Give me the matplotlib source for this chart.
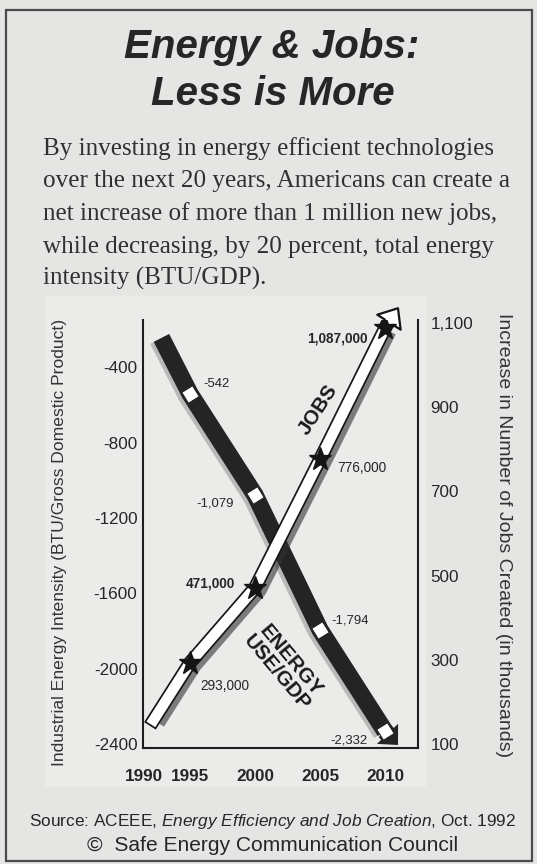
import matplotlib
matplotlib.use('Agg')
import matplotlib.pyplot as plt
import matplotlib.patheffects as pe
from matplotlib.patches import FancyArrowPatch, Rectangle
from matplotlib import font_manager

W, H = 537, 864

# ---- data ----
years = [1995, 2000, 2005, 2010]
energy = [-542, -1079, -1794, -2332]          # BTU/GDP
energy_labels = ['-542', '-1,079', '-1,794', '-2,332']
jobs = [293, 471, 776, 1087]                  # thousands of jobs
jobs_labels = ['293,000', '471,000', '776,000', '1,087,000']
energy_start = (1992.8, -245)
energy_tip = (2011.0, -2405)
jobs_start = (1992.2, 157)
jobs_tip = (2011.0, 1135)
left_ticks = [-400, -800, -1200, -1600, -2000, -2400]
right_ticks = [1100, 900, 700, 500, 300, 100]
right_tick_labels = ['1,100', '900', '700', '500', '300', '100']
x_tick_labels = ['1990', '1995', '2000', '2005', '2010']

title_lines = ['Energy & Jobs:', 'Less is More']
body_lines = ['By investing in energy efficient technologies',
              'over the next 20 years, Americans can create a',
              'net increase of more than 1 million new jobs,',
              'while decreasing, by 20 percent, total energy',
              'intensity (BTU/GDP).']

names = {f.name for f in font_manager.fontManager.ttflist}
narrow = 'Liberation Sans Narrow' if 'Liberation Sans Narrow' in names else 'Liberation Sans'
k = 1.0 if narrow == 'Liberation Sans Narrow' else 0.82   # shrink sizes for the wider face
plt.rcParams['mathtext.fontset'] = 'custom'
plt.rcParams['mathtext.rm'] = narrow
plt.rcParams['mathtext.it'] = narrow + ':italic'

ink = '#262626'


def fx(x):
    return x / W


def fy(y):
    return 1 - y / H


fig = plt.figure(figsize=(W / 100, H / 100), dpi=100)
fig.patch.set_facecolor('#e5e5e3')
renderer = fig.canvas.get_renderer()


def fit(t, px, vertical=False):
    bb = t.get_window_extent(renderer)
    cur = bb.height if vertical else bb.width
    t.set_fontsize(t.get_fontsize() * px / cur)


# lighter panel behind the chart and the outer frame
fig.add_artist(Rectangle((fx(45), fy(786)), (425 - 45) / W, (786 - 296) / H,
                         transform=fig.transFigure, color='#ebebe9', zorder=0))
fig.add_artist(Rectangle((fx(6), fy(861)), (532 - 6) / W, (861 - 10) / H,
                         transform=fig.transFigure, fill=False, ec='#4a4a4a', lw=1.6, zorder=1))

# title
t1 = fig.text(fx(272), fy(58), title_lines[0], ha='center', va='baseline', color=ink,
              family='Liberation Sans', weight='bold', style='italic', fontsize=29)
fit(t1, 295)
fig.text(fx(273), fy(105), title_lines[1], ha='center', va='baseline', color=ink,
         family='Liberation Sans', weight='bold', style='italic', fontsize=t1.get_fontsize())

# body text
ref = fig.text(0, 0, body_lines[1], family='Liberation Serif', fontsize=18)
fit(ref, 467)
body_size = ref.get_fontsize()
ref.remove()
for i, line in enumerate(body_lines):
    fig.text(fx(43), fy(155 + 32.5 * i), line, ha='left', va='baseline', color='#303030',
             family='Liberation Serif', fontsize=body_size)

# axes
ax = fig.add_axes([fx(143), fy(748), (418 - 143) / W, (748 - 320) / H])
ax.patch.set_visible(False)
ax.set_xlim(1991.38, 2012.54)
ax.set_ylim(-2421, -150)
ax2 = ax.twinx()
ax2.set_ylim(90.5, 1107)

for s in ['top', 'right']:
    ax.spines[s].set_visible(False)
for s in ['top', 'left', 'bottom']:
    ax2.spines[s].set_visible(False)
for sp in [ax.spines['left'], ax.spines['bottom'], ax2.spines['right']]:
    sp.set_linewidth(1.5)
    sp.set_color('#1e1e1e')

ax.set_xticks([1991.45] + years)
ax.set_xticklabels(x_tick_labels, family=narrow, weight='bold', fontsize=15 * k, color=ink)
ax.set_yticks(left_ticks)
ax.set_yticklabels([str(v) for v in left_ticks], family=narrow, fontsize=15 * k, color=ink)
ax2.set_yticks(right_ticks)
ax2.set_yticklabels(right_tick_labels, family=narrow, fontsize=15 * k, color=ink)
ax.tick_params(axis='x', length=0, pad=15)
ax.tick_params(axis='y', length=0, pad=4)
ax2.tick_params(axis='y', length=0, pad=9)

# energy use / GDP arrow (dark band)
ax.plot([energy_start[0]] + years, [energy_start[1]] + energy, color='#242424', lw=12.5,
        solid_capstyle='butt', solid_joinstyle='round', zorder=3,
        path_effects=[pe.SimpleLineShadow(offset=(-2.5, -1.5), shadow_color='#888', alpha=0.5),
                      pe.Normal()])
ax.add_patch(FancyArrowPatch((years[-1], energy[-1]), energy_tip,
                             arrowstyle='simple,head_width=21,head_length=11,tail_width=12.5',
                             mutation_scale=1, shrinkA=0, shrinkB=0, fc='#242424', ec='none',
                             zorder=3, clip_on=False))
ax.plot(years, energy, ls='none', marker=(4, 0, -13), ms=13, mfc='white', mec='#222',
        mew=0.8, zorder=4)
energy_offsets = [(19, 7), (-29, -6), (22, 7), (-26, -7)]
for yr, v, lab, off in zip(years, energy, energy_labels, energy_offsets):
    ax.annotate(lab, (yr, v), xytext=off, textcoords='offset points', ha='center',
                va='center', family=narrow, fontsize=11.5 * k, color=ink)
ax.text(2002.2, -1990, 'ENERGY\nUSE/GDP', rotation=-50, rotation_mode='anchor',
        ha='center', va='center', multialignment='center', linespacing=1.0,
        family=narrow, weight='bold', fontsize=18 * k, color='#1a1a1a')

# jobs arrow (white band with black outline)
ax2.plot([jobs_start[0]] + years, [jobs_start[1]] + jobs, color='white', lw=7.5,
         solid_capstyle='butt', solid_joinstyle='round', zorder=3,
         path_effects=[pe.SimpleLineShadow(offset=(3, -2), shadow_color='#333', alpha=0.6,
                                           linewidth=10.5),
                       pe.Stroke(linewidth=10, foreground='#161616', capstyle='projecting'),
                       pe.Stroke(linewidth=7.5, foreground='white', capstyle='projecting')])
ax2.add_patch(FancyArrowPatch((years[-1], jobs[-1]), jobs_tip,
                              arrowstyle='simple,head_width=20,head_length=12,tail_width=7',
                              mutation_scale=1, shrinkA=0, shrinkB=0, fc='white', ec='#161616',
                              lw=1.6, zorder=3.5, clip_on=False))
ax2.plot(years, jobs, ls='none', marker='*', ms=17, color='#151515', zorder=4)
jobs_offsets = [(25, -17), (-32, 3), (30, -6), (-34, -7)]
jobs_weight = ['normal', 'bold', 'normal', 'bold']
for yr, v, lab, off, wt in zip(years, jobs, jobs_labels, jobs_offsets, jobs_weight):
    ax2.annotate(lab, (yr, v), xytext=off, textcoords='offset points', ha='center',
                 va='center', family=narrow, fontsize=12 * k, weight=wt, color=ink)
ax2.text(2004.9, 895, 'JOBS', rotation=57, rotation_mode='anchor', ha='center',
         va='center', family=narrow, weight='bold', fontsize=18 * k, color='#1a1a1a')

# axis titles
yl = fig.text(fx(60), fy(542), 'Industrial Energy Intensity (BTU/Gross Domestic Product)',
              rotation=90, ha='center', va='center', family=narrow, fontsize=14, color='#333')
fit(yl, 450, vertical=True)
yr_lab = fig.text(fx(503), fy(535), 'Increase in Number of Jobs Created (in thousands)',
                  rotation=270, ha='center', va='center', family=narrow, fontsize=14,
                  color='#333')
fit(yr_lab, 445, vertical=True)

# source lines
s1 = fig.text(fx(273), fy(826),
              'Source: ACEEE, $\\mathit{Energy\\ Efficiency\\ and\\ Job\\ Creation}$, Oct. 1992',
              ha='center', va='baseline', family=narrow, fontsize=15, color=ink)
fit(s1, 488)
s2 = fig.text(fx(273), fy(851), '\u00a9  Safe Energy Communication Council', ha='center',
              va='baseline', family='Liberation Sans', fontsize=15, color=ink)
fit(s2, 372)

fig.savefig('out.png', dpi=100, facecolor=fig.get_facecolor())
